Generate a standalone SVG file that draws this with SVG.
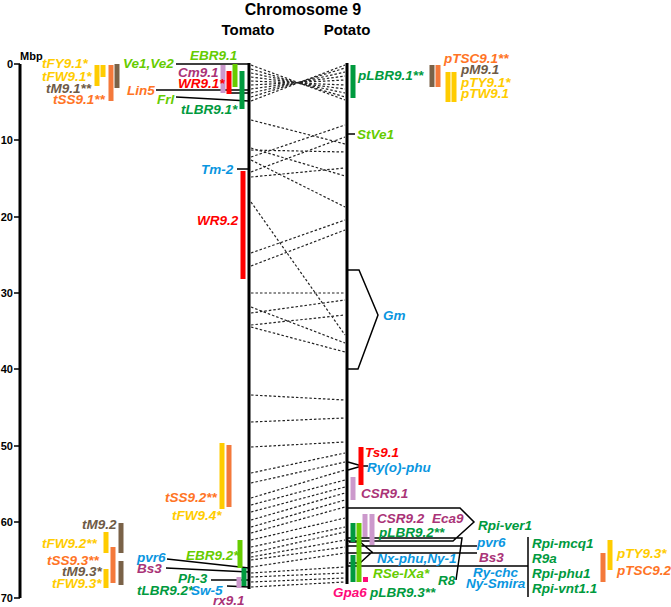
<svg xmlns="http://www.w3.org/2000/svg" width="671" height="607" viewBox="0 0 671 607">
<style>
text{font-family:"Liberation Sans",Arial,sans-serif;font-weight:bold}
.l{font-style:italic;font-size:13.5px}
.ax{font-size:11px}
.chr{stroke:#000;stroke-width:3;fill:none}
.ln{stroke:#000;stroke-width:1.5;fill:none}
.d{stroke:#222;stroke-width:1.2;stroke-dasharray:2.5 2;fill:none}
.b{stroke-width:5;fill:none}
.Y{fill:#ffcc00}.O{fill:#ff7425}.Br{fill:#6e5a46}.LG{fill:#66cc00}.DG{fill:#009a3e}.R{fill:#ff0000}.Pu{fill:#aa3377}.Bl{fill:#0a96e0}.Pk{fill:#ff0a78}
.sY{stroke:#ffcc00}.sO{stroke:#f4793b}.sBr{stroke:#7a6248}.sLG{stroke:#66cc00}.sDG{stroke:#009a3e}.sR{stroke:#ff0000}.sLi{stroke:#cc99cc}
</style>

<g id="header">
<text x="303" y="15" font-size="16" text-anchor="middle">Chromosome 9</text>
<text x="248" y="35" font-size="15" text-anchor="middle">Tomato</text>
<text x="347" y="35" font-size="15" text-anchor="middle">Potato</text>
</g>

<g id="axis">
<line class="chr" x1="20" y1="64" x2="20" y2="598"/>
<path class="ln" stroke-width="2" d="M14,64H20M14,140H20M14,217H20M14,293H20M14,369H20M14,446H20M14,522H20M14,598H20"/>
<text class="ax" x="13" y="68" text-anchor="end">0</text>
<text class="ax" x="13" y="144" text-anchor="end">10</text>
<text class="ax" x="13" y="221" text-anchor="end">20</text>
<text class="ax" x="13" y="297" text-anchor="end">30</text>
<text class="ax" x="13" y="373" text-anchor="end">40</text>
<text class="ax" x="13" y="450" text-anchor="end">50</text>
<text class="ax" x="13" y="526" text-anchor="end">60</text>
<text class="ax" x="13" y="602" text-anchor="end">70</text>
<text class="ax" x="20" y="60">Mbp</text>
</g>

<g id="connectors">
<path class="d" d="M251,65L345,100M251,69L345,97M251,73L345,93M251,77L345,89M251,81L345,85M251,85L345,80M251,89L345,76M251,93L345,72M251,97L345,68M251,101L345,65"/>
<path class="d" d="M251,120L345,144M251,157L345,125M251,148L345,176M251,150L345,152M251,160L345,207M251,172L345,137M251,177L345,168M251,202L345,335M251,253L345,220M251,266L345,230M251,293L345,293M251,307L345,343M251,313L345,300M251,325L345,315M251,327L345,352M251,395L345,400M251,422L345,418M251,447L345,442"/>
<path class="d" d="M251,473L345,453M251,483L345,462M251,498L345,470M251,505L345,480M251,512L345,487M251,520L345,493M251,527L345,500M251,533L345,507M251,540L345,518M251,547L345,527M251,553L345,532M251,557L345,540M251,560L345,547M251,567L345,553M251,573L345,567M251,577L345,573M251,582L345,578M251,587L345,582"/>
</g>

<g id="tomato">
<line class="chr" x1="249" y1="63" x2="249" y2="589"/>
<path class="ln" d="M176,64H249M156,90H249M231,93H249M176,97L249,101M237,169H249M167,559L249,568M166,568L249,572M211,580H249M227,586L249,587"/>
</g>

<g id="potato">
<line class="chr" x1="347" y1="63" x2="347" y2="584"/>
<path class="ln" d="M347,134H355M347,270H359L378,315L358,369H347M348,462L362,466L348,470M362,466H368"/>
<path class="ln" d="M347,508H460L474,522L453,541H347M347,538H462L456,580M347,546H477M347,553H477M349,542H360L372,552L360,563H349M347,566H528M528,537V597"/>
</g>

<g id="bars">
<path class="b sY" d="M97,65V86M103,65V77M106,532V553M106,569V588M222,443V509M448,72V102M454,72V102M610,540V570"/>
<path class="b sO" d="M111,65V101M113,547V583M229,445V507M438,65V87M603,553V582"/>
<path class="b sBr" d="M117,64V88M121,523V553M121,561V585M432,65V87"/>
<path class="b sLi" d="M223,65V93M239,577V588M353,477V500M365,514V537M372,514V545"/>
<path class="b sR" d="M229,71V94M243,171V279M361,447V485"/>
<path class="b sLG" d="M235,64V87M240,540V568M359,523V582"/>
<path class="b sDG" d="M242,71V109M244,568V586M353,65V98M353,523V542M353,555V582"/>
<rect class="Pk" x="363" y="577" width="5" height="5"/>
</g>

<g id="labels-tomato">
<text class="l Y" x="42" y="68">tFY9.1*</text>
<text class="l Y" x="42" y="81">tFW9.1*</text>
<text class="l Br" x="46" y="93">tM9.1**</text>
<text class="l O" x="53" y="104">tSS9.1**</text>
<text class="l LG" x="123" y="68">Ve1,Ve2</text>
<text class="l O" x="127" y="95">Lin5</text>
<text class="l LG" x="157" y="104">Frl</text>
<text class="l LG" x="190" y="60">EBR9.1</text>
<text class="l Pu" x="178" y="77">Cm9.1</text>
<text class="l R" x="178" y="88">WR9.1*</text>
<text class="l DG" x="181" y="114">tLBR9.1*</text>
<text class="l Bl" x="201" y="174">Tm-2</text>
<text class="l R" x="197" y="225">WR9.2</text>
<text class="l O" x="165" y="502">tSS9.2**</text>
<text class="l Y" x="172" y="520">tFW9.4*</text>
<text class="l Br" x="82" y="529">tM9.2</text>
<text class="l Y" x="42" y="548">tFW9.2**</text>
<text class="l O" x="47" y="565">tSS9.3**</text>
<text class="l Br" x="62" y="576">tM9.3*</text>
<text class="l Y" x="52" y="588">tFW9.3*</text>
<text class="l Bl" x="137" y="562">pvr6</text>
<text class="l Pu" x="137" y="573">Bs3</text>
<text class="l LG" x="186" y="560">EBR9.2*</text>
<text class="l DG" x="178" y="583">Ph-3</text>
<text class="l DG" x="137" y="595">tLBR9.2*</text>
<text class="l Bl" x="191" y="595">Sw-5</text>
<text class="l Pu" x="213" y="605">rx9.1</text>
</g>

<g id="labels-potato">
<text class="l DG" x="358" y="80">pLBR9.1**</text>
<text class="l O" x="444" y="63">pTSC9.1**</text>
<text class="l Br" x="461" y="74">pM9.1</text>
<text class="l Y" x="461" y="87">pTY9.1*</text>
<text class="l Y" x="461" y="98">pTW9.1</text>
<text class="l LG" x="357" y="139">StVe1</text>
<text class="l Bl" x="383" y="320">Gm</text>
<text class="l R" x="365" y="457">Ts9.1</text>
<text class="l Bl" x="367" y="472">Ry(o)-phu</text>
<text class="l Pu" x="361" y="498">CSR9.1</text>
<text class="l Pu" x="377" y="523">CSR9.2</text>
<text class="l Pu" x="432" y="523">Eca9</text>
<text class="l DG" x="379" y="537">pLBR9.2**</text>
<text class="l DG" x="478" y="530">Rpi-ver1</text>
<text class="l Bl" x="477" y="547">pvr6</text>
<text class="l Pu" x="479" y="562">Bs3</text>
<text class="l Bl" x="377" y="563">Nx-phu,Ny-1</text>
<text class="l LG" x="373" y="578">RSe-IXa*</text>
<text class="l DG" x="438" y="585">R8</text>
<text class="l Pk" x="333" y="597">Gpa6</text>
<text class="l DG" x="370" y="597">pLBR9.3**</text>
<text class="l Bl" x="473" y="577">Ry-chc</text>
<text class="l Bl" x="466" y="588">Ny-Smira</text>
<text class="l DG" x="532" y="548">Rpi-mcq1</text>
<text class="l DG" x="532" y="563">R9a</text>
<text class="l DG" x="532" y="578">Rpi-phu1</text>
<text class="l DG" x="532" y="593">Rpi-vnt1.1</text>
<text class="l Y" x="617" y="558">pTY9.3*</text>
<text class="l O" x="617" y="575">pTSC9.2</text>
</g>
</svg>
